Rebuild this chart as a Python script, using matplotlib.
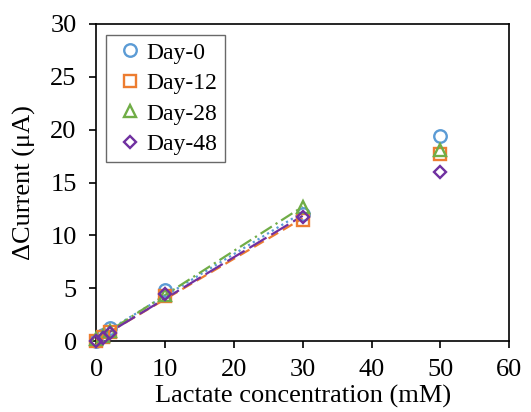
import numpy as np
import matplotlib
matplotlib.use("Agg")
import matplotlib.pyplot as plt

plt.rcParams['font.family'] = ['Liberation Serif', 'DejaVu Serif']

# data
conc = [0, 1, 2, 10, 30, 50]
day0 = [0.0, 0.6, 1.2, 4.8, 12.0, 19.4]
day12 = [0.0, 0.4, 0.9, 4.3, 11.5, 17.7]
day28 = [0.2, 0.5, 1.0, 4.4, 12.7, 18.1]
day48 = [0.0, 0.3, 0.8, 4.5, 11.7, 16.0]

labels = ["Day-0", "Day-12", "Day-28", "Day-48"]
series = [day0, day12, day28, day48]
colors = ["#5B9BD5", "#ED7D31", "#70AD47", "#7030A0"]
markers = ["o", "s", "^", "D"]
msizes = [9, 8, 9, 6.5]
styles = [(0, (1, 1.5)), (0, (5, 2.5)), (0, (6, 2, 1, 2)), (0, (9, 2.5))]

fig = plt.figure(figsize=(5.31, 4.12), dpi=100)
ax = fig.add_axes([0.181, 0.172, 0.778, 0.77])

x = np.array(conc)
for lab, ys, c, m, ms, ls in zip(labels, series, colors, markers, msizes, styles):
    ys = np.array(ys)
    # linear fit over the 0-30 mM range
    lin = x <= 30
    k, b = np.polyfit(x[lin], ys[lin], 1)
    xf = np.array([0, 30])
    ax.plot(xf, k * xf + b, color=c, linestyle=ls, linewidth=1.6, zorder=2)
    ax.plot(x, ys, linestyle="none", marker=m, markersize=ms,
            markerfacecolor="none", markeredgecolor=c, markeredgewidth=1.7,
            label=lab, zorder=3, clip_on=False)

ax.set_xlim(0, 60)
ax.set_ylim(0, 30)
ax.set_xticks(range(0, 61, 10))
ax.set_yticks(range(0, 31, 5))
ax.tick_params(direction="out", length=5, width=1.2, labelsize=19,
               colors="black", pad=9)
ax.tick_params(axis="x", pad=8)
for sp in ax.spines.values():
    sp.set_linewidth(1.2)
ax.set_xlabel("Lactate concentration (mM)", fontsize=19, labelpad=3)
ax.set_ylabel("ΔCurrent (μA)", fontsize=19, labelpad=10)

leg = ax.legend(loc="upper left", bbox_to_anchor=(0.025, 0.965), fontsize=17,
                handletextpad=0.0, handlelength=1.4, borderpad=0.3,
                labelspacing=0.38, borderaxespad=0.0, fancybox=False,
                edgecolor="#444444")
leg.get_frame().set_linewidth(1.0)

fig.savefig("out.png", dpi=100)
